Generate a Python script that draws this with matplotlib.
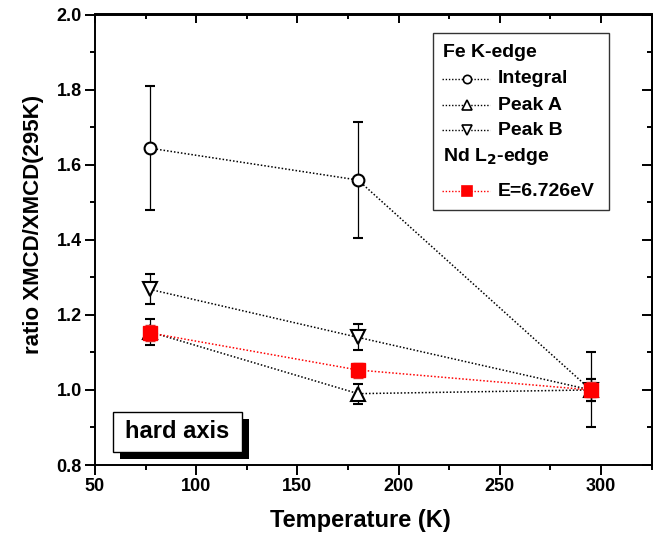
import matplotlib
matplotlib.use("Agg")
import matplotlib.pyplot as plt
from matplotlib.lines import Line2D
from matplotlib.patches import Rectangle
from matplotlib.ticker import MultipleLocator

plt.rcParams['font.family'] = ['Liberation Sans', 'DejaVu Sans']
plt.rcParams['font.weight'] = 'bold'

# ---- data ----
temperature = [77, 180, 295]
integral = [1.644, 1.559, 1.0]
integral_err = [0.165, 0.155, 0.10]
peak_a = [1.155, 0.99, 1.0]
peak_a_err = [0.035, 0.027, 0.03]
peak_b = [1.268, 1.140, 1.0]
peak_b_err = [0.04, 0.035, 0.03]
nd_l2 = [1.152, 1.053, 1.0]
nd_l2_err = [0.022, 0.02, 0.02]

series_labels = ["Integral", "Peak A", "Peak B", "E=6.726eV"]
header_fe = "Fe K-edge"
header_nd = "Nd L$_\\mathbf{2}$-edge"
x_label = "Temperature (K)"
y_label = "ratio XMCD/XMCD(295K)"
note_text = "hard axis"

W, H = 658, 535
fig = plt.figure(figsize=(W / 100, H / 100), dpi=100)
L, R, T, B = 95, 651.5, 14.5, 465
ax = fig.add_axes([L / W, 1 - B / H, (R - L) / W, (B - T) / H])

def axx(px):
    return (px - L) / (R - L)

def axy(py):
    return 1 - (py - T) / (B - T)

ls = (0, (1.0, 1.3))
common = dict(linestyle=ls, lw=1.1, capsize=3.3, elinewidth=0.9, capthick=0.9)
ax.errorbar(temperature, integral, yerr=integral_err, color='black', marker='o',
            ms=8.5, mfc='white', mec='black', mew=1.5, zorder=3, **common)
ax.errorbar(temperature, peak_a, yerr=peak_a_err, color='black', marker='^',
            ms=10.5, mfc='white', mec='black', mew=1.5, zorder=3, **common)
ax.errorbar(temperature, peak_b, yerr=peak_b_err, color='black', marker='v',
            ms=10.5, mfc='white', mec='black', mew=1.5, zorder=3, **common)
ax.errorbar(temperature, nd_l2, yerr=nd_l2_err, color='red', ecolor='#e03030', marker='s',
            ms=9.5, mfc='red', mec='red', mew=1.0, zorder=4, **common)

ax.set_xlim(50, 325)
ax.set_ylim(0.8, 2.0)
ax.xaxis.set_major_locator(MultipleLocator(50))
ax.xaxis.set_minor_locator(MultipleLocator(25))
ax.yaxis.set_major_locator(MultipleLocator(0.2))
ax.yaxis.set_minor_locator(MultipleLocator(0.1))
ax.yaxis.set_major_formatter(matplotlib.ticker.FormatStrFormatter('%.1f'))

for sp in ax.spines.values():
    sp.set_linewidth(1.4)
ax.tick_params(which='major', direction='out', length=7, width=1.4,
               labelsize=13, pad=2.5, top=False, right=False)
ax.tick_params(which='minor', direction='out', length=3.5, width=1.4,
               top=False, right=False)
for lab in ax.get_xticklabels() + ax.get_yticklabels():
    lab.set_fontweight('bold')

# inward ticks on top and right
sx = ax.secondary_xaxis('top')
sx.xaxis.set_major_locator(MultipleLocator(50))
sx.xaxis.set_minor_locator(MultipleLocator(25))
sx.tick_params(which='major', direction='in', length=6.5, width=1.4, labeltop=False)
sx.tick_params(which='minor', direction='in', length=3.5, width=1.4)
sx.spines['top'].set_linewidth(1.4)
sy = ax.secondary_yaxis('right')
sy.yaxis.set_major_locator(MultipleLocator(0.2))
sy.yaxis.set_minor_locator(MultipleLocator(0.1))
sy.tick_params(which='major', direction='in', length=7, width=1.4, labelright=False)
sy.tick_params(which='minor', direction='in', length=3.5, width=1.4)
sy.spines['right'].set_linewidth(1.4)

ax.set_xlabel(x_label, fontsize=17, fontweight='bold')
ax.set_ylabel(y_label, fontsize=16, fontweight='bold')
ax.xaxis.set_label_coords(axx(360), axy(509))
ax.yaxis.set_label_coords(axx(44), axy(224))

# ---- legend (manual layout) ----
tr = ax.transAxes
ax.add_patch(Rectangle((axx(433), axy(210)), axx(609) - axx(433), axy(33) - axy(210),
                       transform=tr, fill=True, facecolor='white', edgecolor='#333333',
                       lw=1.0, zorder=6))
fs = 14
ax.text(axx(443), axy(52.5), header_fe, transform=tr, fontsize=fs,
        fontweight='bold', va='center', ha='left', zorder=7)
ax.text(axx(443), axy(156), header_nd, transform=tr, fontsize=fs,
        fontweight='bold', va='center', ha='left', zorder=7)
rows = [78.5, 105, 130, 191]
styles = [('o', 6, 'white', 'black'), ('^', 7.5, 'white', 'black'),
          ('v', 7.5, 'white', 'black'), ('s', 6.5, 'red', 'red')]
for yrow, lab, (mk, msz, fc, col) in zip(rows, series_labels, styles):
    ax.add_line(Line2D([axx(442), axx(490)], [axy(yrow), axy(yrow)], transform=tr,
                       color=col, linestyle=ls, lw=1.0, zorder=7))
    ax.add_line(Line2D([axx(466.5)], [axy(yrow)], transform=tr, marker=mk, ms=msz,
                       mfc=fc, mec=col, mew=1.2, linestyle='none', zorder=8))
    ax.text(axx(498), axy(yrow), lab, transform=tr, fontsize=fs, fontweight='bold',
            va='center', ha='left', zorder=7)

# ---- "hard axis" box with shadow ----
ax.add_patch(Rectangle((axx(120), axy(459)), axx(249) - axx(120), axy(419) - axy(459),
                       transform=tr, facecolor='black', edgecolor='black', lw=0, zorder=6))
ax.add_patch(Rectangle((axx(113), axy(452)), axx(242) - axx(113), axy(412) - axy(452),
                       transform=tr, facecolor='white', edgecolor='black', lw=1.0, zorder=7))
ax.text(axx(177.5), axy(432), note_text, transform=tr, fontsize=17, fontweight='bold',
        va='center', ha='center', zorder=8)

fig.savefig("out.png", dpi=100)
